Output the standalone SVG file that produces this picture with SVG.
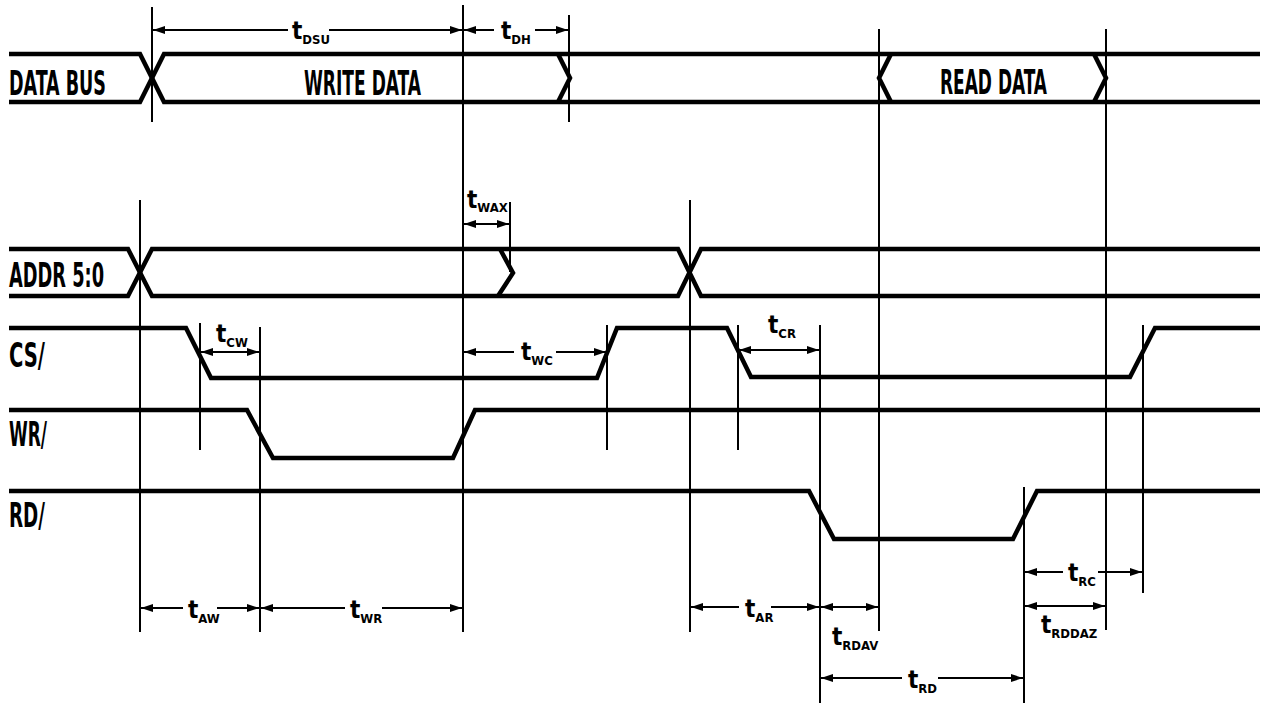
<svg xmlns="http://www.w3.org/2000/svg" width="1262" height="704" viewBox="0 0 1262 704">
<defs>
<marker id="ah" viewBox="0 0 12 8" refX="12" refY="4" markerWidth="12" markerHeight="8" markerUnits="userSpaceOnUse" orient="auto"><path d="M0,0 L12,4 L0,8 z" fill="#000"/></marker>
<style>
.sig{fill:none;stroke:#000;stroke-width:4.5;stroke-linejoin:miter}
.ref{stroke:#000;stroke-width:2;fill:none}
.dim{stroke:#000;stroke-width:2;fill:none;marker-end:url(#ah)}
.lbl{font-family:"Liberation Sans Narrow","DejaVu Sans Condensed","Liberation Sans",sans-serif;font-weight:bold;font-size:34px;fill:#000}
.tl{font-family:"Liberation Sans Narrow","DejaVu Sans Condensed","Liberation Sans",sans-serif;font-weight:bold;font-size:24px;fill:#000}
.sub{font-size:13px}
</style>
</defs>
<rect width="1262" height="704" fill="#fff"/>

<g id="data-bus">
<path class="sig" d="M9 54 H140 L164 102 H1260"/>
<path class="sig" d="M9 102 H140 L164 54 H1260"/>
<path class="sig" d="M558 54 L570 78 L558 102"/>
<path class="sig" d="M891 54 L879 78 L891 102"/>
<path class="sig" d="M1094 54 L1106 78 L1094 102"/>
<text class="lbl" x="9" y="95" textLength="97" lengthAdjust="spacingAndGlyphs">DATA BUS</text>
<text class="lbl" x="304" y="95" textLength="117" lengthAdjust="spacingAndGlyphs">WRITE DATA</text>
<text class="lbl" x="940" y="94" textLength="107" lengthAdjust="spacingAndGlyphs">READ DATA</text>
</g>

<g id="addr">
<path class="sig" d="M9 249 H128 L152 296 H678 L701 249 H1260"/>
<path class="sig" d="M9 296 H128 L152 249 H678 L701 296 H1260"/>
<path class="sig" d="M500 249 L513 273 L498 296"/>
<text class="lbl" x="9" y="287" textLength="95" lengthAdjust="spacingAndGlyphs">ADDR 5:0</text>
</g>

<g id="cs">
<path class="sig" d="M9 328 H186 L211 378 H597 L617 328 H727 L751 377 H1130 L1155 328 H1260"/>
<text class="lbl" x="9" y="367" textLength="36" lengthAdjust="spacingAndGlyphs">CS/</text>
</g>

<g id="wr">
<path class="sig" d="M9 410 H247 L273 458 H453 L475 410 H1260"/>
<text class="lbl" x="9" y="446" textLength="38" lengthAdjust="spacingAndGlyphs">WR/</text>
</g>

<g id="rd">
<path class="sig" d="M9 491 H809 L834 539 H1013 L1037 491 H1260"/>
<text class="lbl" x="9" y="527" textLength="36" lengthAdjust="spacingAndGlyphs">RD/</text>
</g>

<g id="connectors">
<line class="ref" x1="152" y1="7" x2="152" y2="122"/>
<line class="ref" x1="463" y1="5" x2="463" y2="632"/>
<line class="ref" x1="569" y1="15" x2="569" y2="122"/>
<line class="ref" x1="879" y1="29" x2="879" y2="631"/>
<line class="ref" x1="1106" y1="29" x2="1106" y2="630"/>
<line class="ref" x1="140" y1="200" x2="140" y2="632"/>
<line class="ref" x1="690" y1="200" x2="690" y2="632"/>
<line class="ref" x1="510" y1="202" x2="510" y2="272"/>
<line class="ref" x1="200" y1="323" x2="200" y2="450"/>
<line class="ref" x1="260" y1="327" x2="260" y2="632"/>
<line class="ref" x1="607" y1="325" x2="607" y2="450"/>
<line class="ref" x1="738" y1="325" x2="738" y2="450"/>
<line class="ref" x1="820" y1="325" x2="820" y2="703"/>
<line class="ref" x1="1143" y1="325" x2="1143" y2="593"/>
<line class="ref" x1="1024" y1="487" x2="1024" y2="703"/>

<line class="dim" x1="288" y1="30" x2="153" y2="30"/>
<line class="dim" x1="329" y1="30" x2="462" y2="30"/>
<line class="dim" x1="494" y1="30" x2="464" y2="30"/>
<line class="dim" x1="535" y1="30" x2="568" y2="30"/>
<line class="dim" x1="487" y1="224" x2="464" y2="224"/>
<line class="dim" x1="486" y1="224" x2="509" y2="224"/>
<line class="dim" x1="230" y1="352" x2="201" y2="352"/>
<line class="dim" x1="229" y1="352" x2="259" y2="352"/>
<line class="dim" x1="514" y1="352" x2="464" y2="352"/>
<line class="dim" x1="556" y1="352" x2="606" y2="352"/>
<line class="dim" x1="779" y1="350" x2="739" y2="350"/>
<line class="dim" x1="778" y1="350" x2="819" y2="350"/>
<line class="dim" x1="183" y1="608" x2="141" y2="608"/>
<line class="dim" x1="217" y1="608" x2="259" y2="608"/>
<line class="dim" x1="345" y1="608" x2="261" y2="608"/>
<line class="dim" x1="382" y1="608" x2="462" y2="608"/>
<line class="dim" x1="739" y1="607" x2="691" y2="607"/>
<line class="dim" x1="771" y1="607" x2="819" y2="607"/>
<line class="dim" x1="851" y1="607" x2="821" y2="607"/>
<line class="dim" x1="850" y1="607" x2="878" y2="607"/>
<line class="dim" x1="1066" y1="606" x2="1025" y2="606"/>
<line class="dim" x1="1065" y1="606" x2="1105" y2="606"/>
<line class="dim" x1="1063" y1="572" x2="1025" y2="572"/>
<line class="dim" x1="1098" y1="572" x2="1142" y2="572"/>
<line class="dim" x1="902" y1="678" x2="821" y2="678"/>
<line class="dim" x1="938" y1="678" x2="1023" y2="678"/>
</g>

<g id="timing-labels">
<text class="tl" x="292" y="39">t<tspan class="sub" dy="5">DSU</tspan></text>
<text class="tl" x="501" y="39">t<tspan class="sub" dy="5">DH</tspan></text>
<text class="tl" x="467" y="208">t<tspan class="sub" dy="4">WAX</tspan></text>
<text class="tl" x="216" y="342">t<tspan class="sub" dy="5">CW</tspan></text>
<text class="tl" x="521" y="360">t<tspan class="sub" dy="5">WC</tspan></text>
<text class="tl" x="768" y="333">t<tspan class="sub" dy="5">CR</tspan></text>
<text class="tl" x="188" y="618">t<tspan class="sub" dy="5">AW</tspan></text>
<text class="tl" x="350" y="618">t<tspan class="sub" dy="5">WR</tspan></text>
<text class="tl" x="745" y="617">t<tspan class="sub" dy="5">AR</tspan></text>
<text class="tl" x="832" y="645">t<tspan class="sub" dy="5">RDAV</tspan></text>
<text class="tl" x="1041" y="633">t<tspan class="sub" dy="5">RDDAZ</tspan></text>
<text class="tl" x="1068" y="581">t<tspan class="sub" dy="5">RC</tspan></text>
<text class="tl" x="908" y="688">t<tspan class="sub" dy="5">RD</tspan></text>
</g>
</svg>
